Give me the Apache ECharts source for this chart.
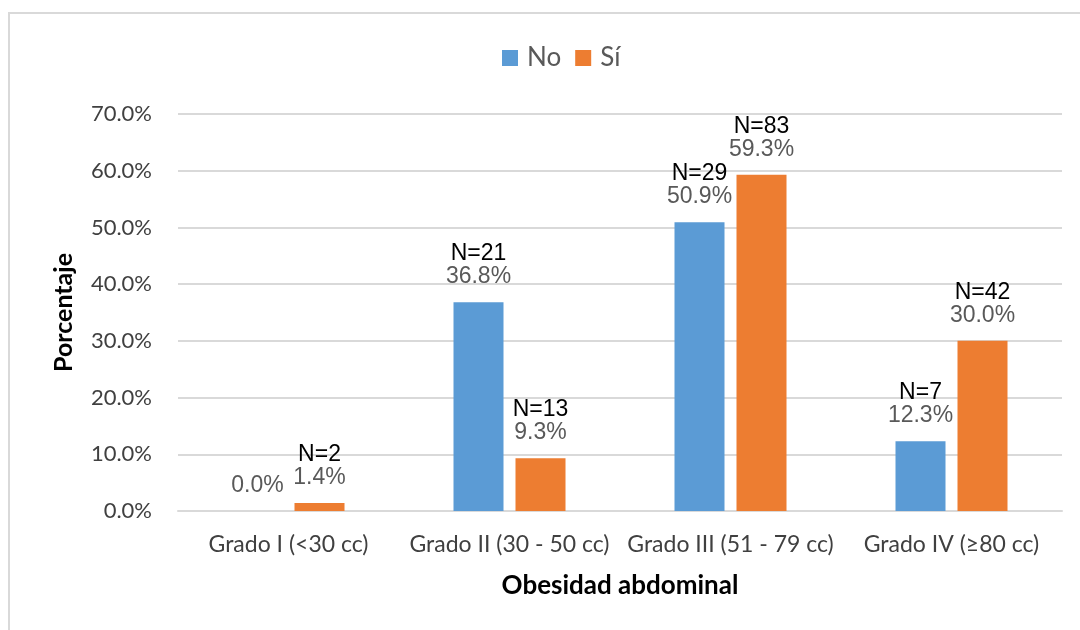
<!DOCTYPE html>
<html>
<head>
<meta charset="utf-8">
<script src="https://cdn.jsdelivr.net/npm/echarts@6/dist/echarts.min.js"></script>
<style>
  html, body { margin: 0; padding: 0; background: #fff; }
  #chart { width: 1080px; height: 630px; }
</style>
</head>
<body>
<div id="chart"></div>
<script>
// datos
const categorias = ['Grado I (<30 cc)', 'Grado II (30 - 50 cc)', 'Grado III (51 - 79 cc)', 'Grado IV (≥80 cc)'];
const pctNo = [0.0, 36.8, 50.9, 12.3];
const pctSi = [1.4, 9.3, 59.3, 30.0];
const nNo = [0, 21, 29, 7];
const nSi = [2, 13, 83, 42];
const ticksY = [0, 10, 20, 30, 40, 50, 60, 70];

const myChart = echarts.init(document.getElementById('chart'), null, { renderer: 'canvas' });

const etiqueta = (ns) => ({
  show: true,
  position: 'top',
  distance: 14,
  formatter: (p) => {
    const n = ns[p.dataIndex];
    const pct = p.value.toFixed(1) + '%';
    return n > 0 ? '{n|N=' + n + '}\n{p|' + pct + '}' : '{p|' + pct + '}';
  },
  rich: {
    n: { fontFamily: 'Liberation Sans', fontSize: 23, color: '#000', lineHeight: 23 },
    p: { fontFamily: 'Liberation Sans', fontSize: 23, color: '#595959', lineHeight: 23 }
  }
});

const option = {
  animation: false,
  graphic: [{
    type: 'rect',
    shape: { x: 9, y: 13, width: 1200, height: 800 },
    style: { fill: 'none', stroke: '#d9d9d9', lineWidth: 2 }
  }],
  legend: {
    top: 40,
    left: 497,
    itemWidth: 16,
    itemHeight: 16,
    itemGap: 14,
    icon: 'rect',
    textStyle: { fontFamily: 'Lato', fontSize: 26, color: '#595959', padding: [0, 0, 0, 4] },
    data: ['No', 'Sí']
  },
  grid: { left: 178, right: 18, top: 114, bottom: 119 },
  xAxis: {
    type: 'category',
    data: categorias,
    name: 'Obesidad abdominal',
    nameLocation: 'middle',
    nameGap: 62,
    nameTextStyle: { fontFamily: 'Lato', fontSize: 26, fontWeight: 'bold', color: '#000' },
    axisLine: { lineStyle: { color: '#d9d9d9', width: 2 } },
    axisTick: { show: false },
    axisLabel: { interval: 0, fontFamily: 'Lato', fontSize: 23, color: '#404040', margin: 22 }
  },
  yAxis: {
    type: 'value',
    min: ticksY[0],
    max: ticksY[ticksY.length - 1],
    interval: 10,
    name: 'Porcentaje',
    nameLocation: 'middle',
    nameGap: 102,
    nameTextStyle: { fontFamily: 'Lato', fontSize: 25, fontWeight: 'bold', color: '#000' },
    axisLine: { show: false },
    axisTick: { show: false },
    splitLine: { lineStyle: { color: '#d9d9d9', width: 2 } },
    axisLabel: {
      fontFamily: 'Lato', fontSize: 22, color: '#404040', margin: 26,
      formatter: (v) => v.toFixed(1) + '%'
    }
  },
  series: [
    {
      name: 'No',
      type: 'bar',
      data: pctNo,
      barWidth: 50,
      barGap: '24%',
      itemStyle: { color: '#5B9BD5' },
      label: etiqueta(nNo)
    },
    {
      name: 'Sí',
      type: 'bar',
      data: pctSi,
      barWidth: 50,
      barGap: '24%',
      itemStyle: { color: '#ED7D31' },
      label: etiqueta(nSi)
    }
  ]
};

myChart.setOption(option);
</script>
</body>
</html>
